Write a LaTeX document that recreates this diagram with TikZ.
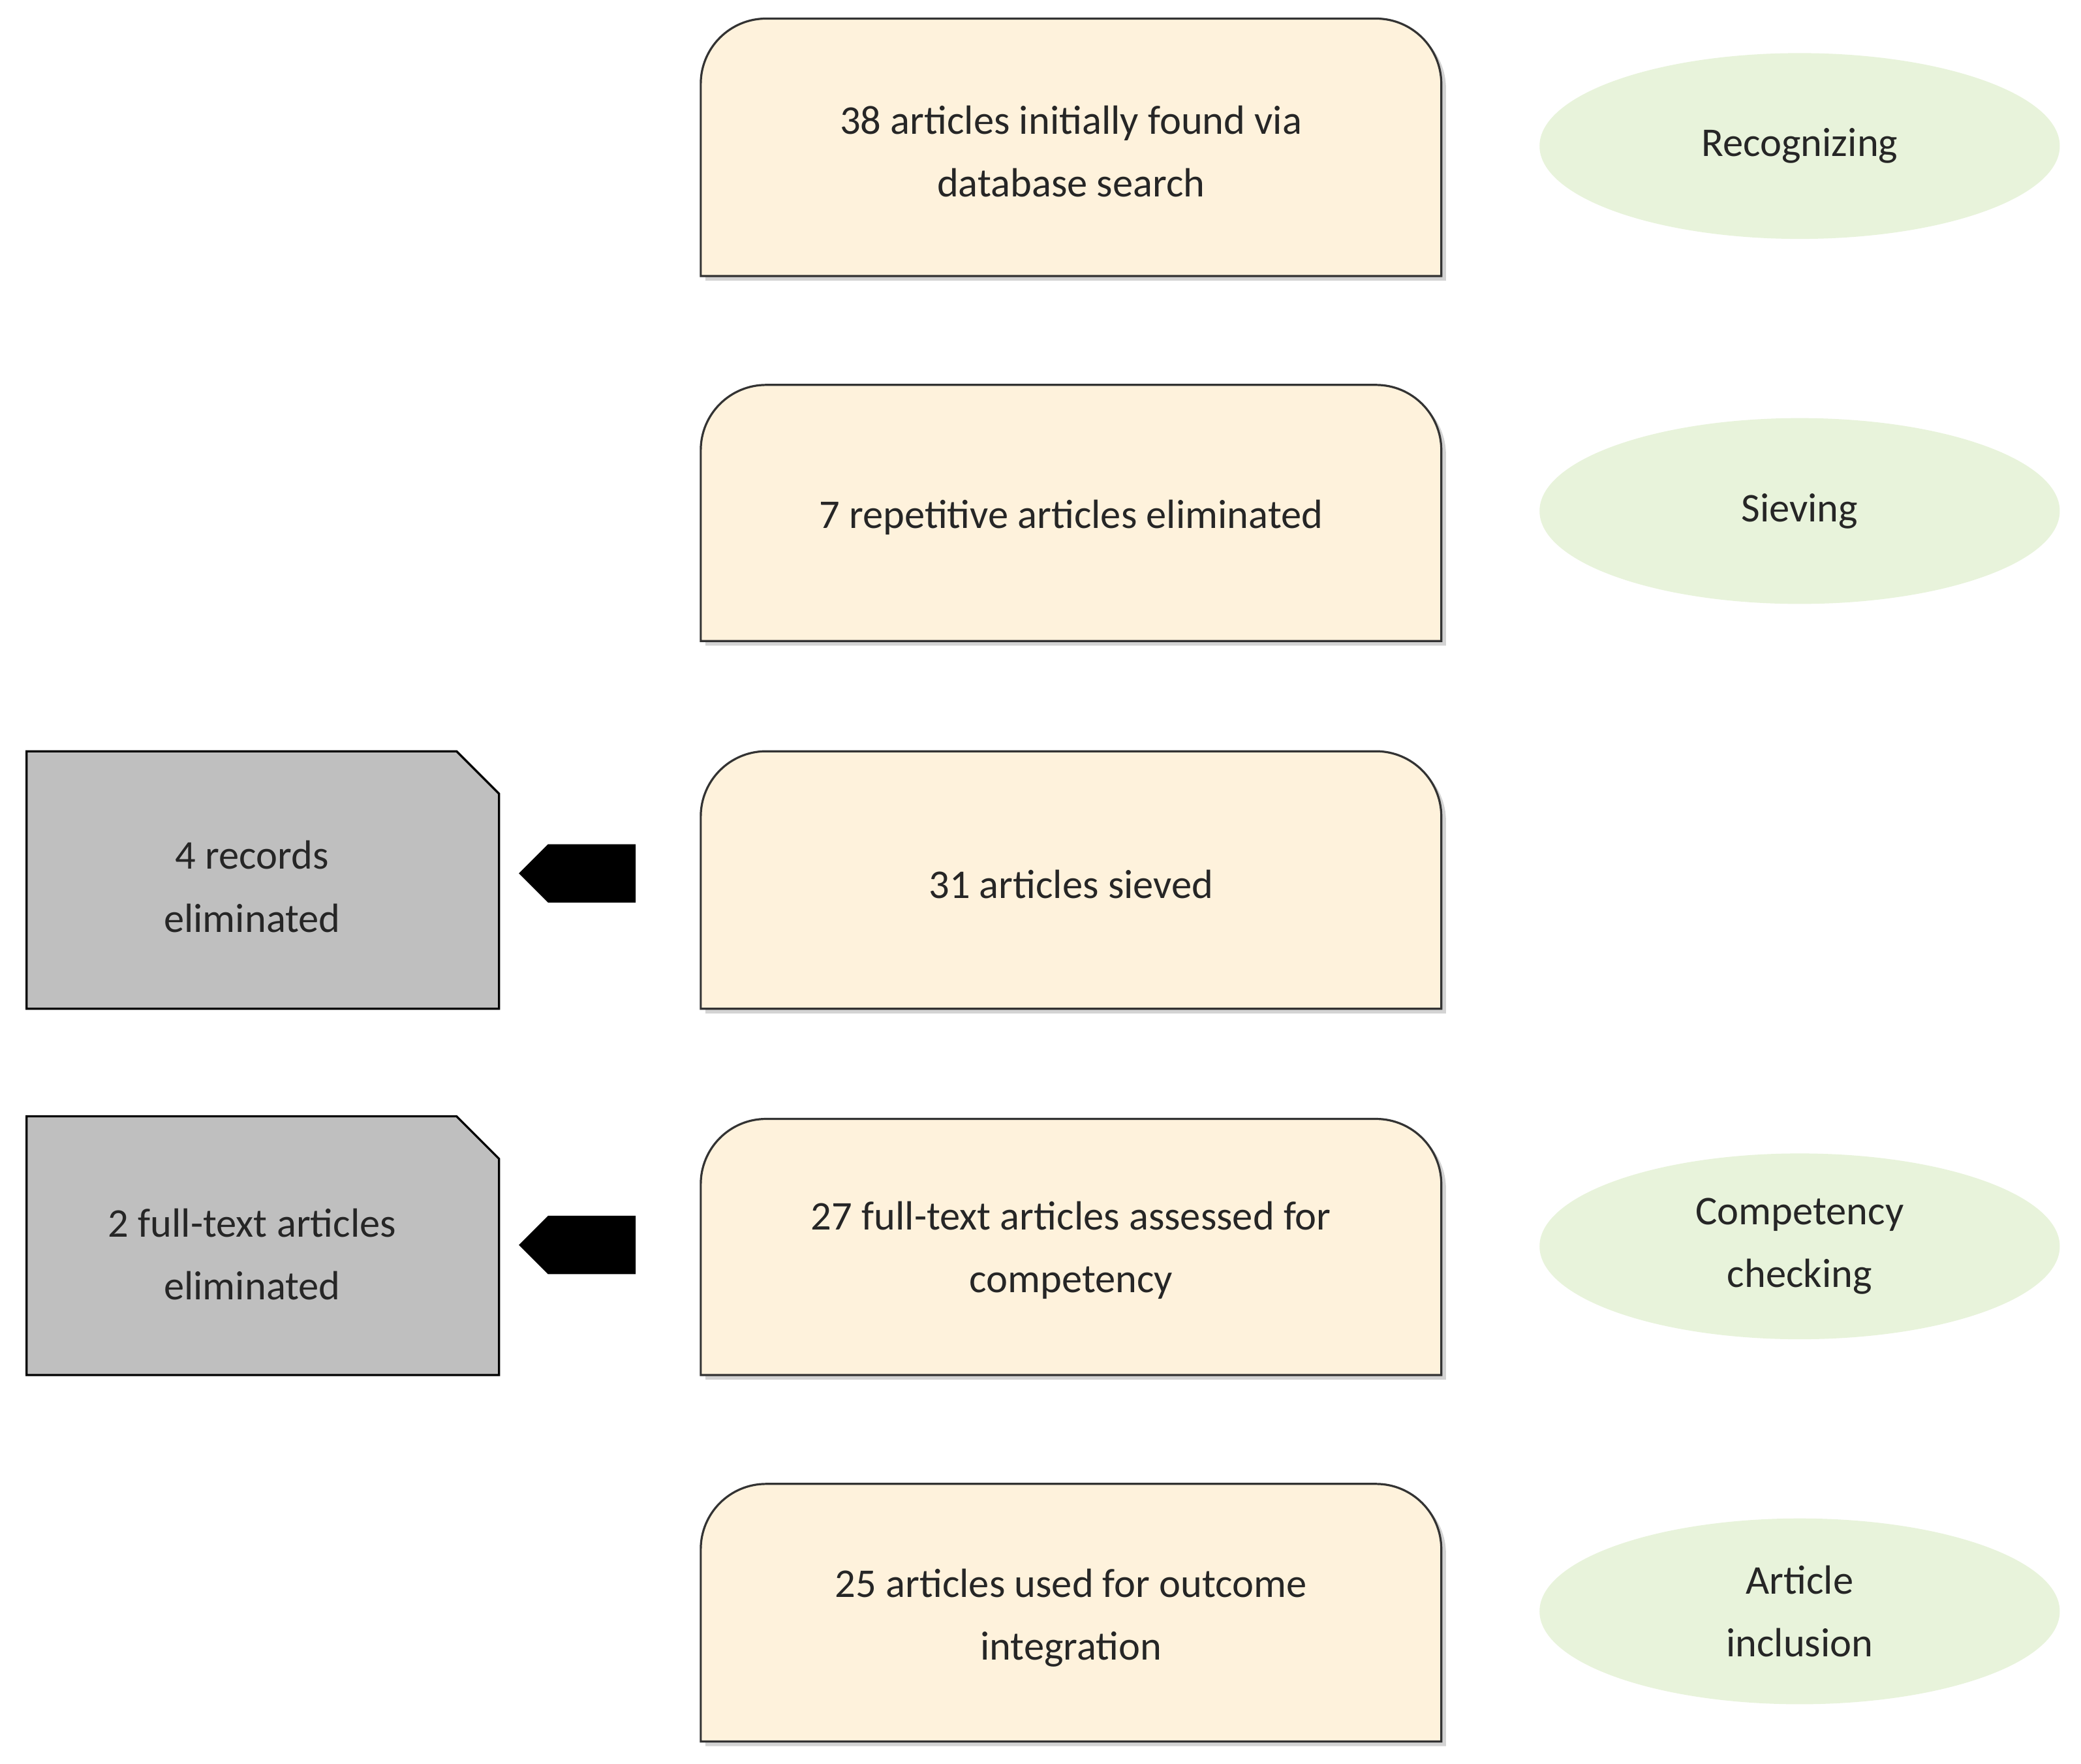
\documentclass[tikz,border=0pt]{standalone}
\usepackage{fontspec}
\setmainfont{Carlito}
\usetikzlibrary{shadows,shapes.arrows}
\begin{document}
\begin{tikzpicture}[x=0.02cm,y=-0.02cm,
  txt/.style={align=center,font=\fontsize{17.5}{27}\selectfont,text=black!85},
  ybox/.style={fill=yellow!25!orange!12,draw=black!80,line width=0.9pt,drop shadow={shadow xshift=2pt,shadow yshift=-2pt,opacity=0.35}},
  gbox/.style={fill=black!25,draw=black,line width=0.9pt},
  ell/.style={ellipse,fill=green!30!olive!14,minimum width=392*0.02cm,minimum height=140*0.02cm,inner sep=0pt},
  barr/.style={single arrow,fill=black,minimum height=88*0.02cm,minimum width=44*0.02cm,single arrow head extend=0pt,shape border rotate=180,inner sep=0pt,single arrow tip angle=90}]
\useasboundingbox (0,0) rectangle (1568,1329);
\tikzset{ellipse/.style={shape=ellipse}}
\usetikzlibrary{shapes.geometric}
% yellow boxes
\foreach \n/\t/\b in {y1/14/208,y2/290/483,y3/566/760,y4/843/1036,y5/1118/1312}{
  \coordinate (\n sw) at (528,\b); \coordinate (\n nw) at (528,\t);
  \coordinate (\n ne) at (1086,\t); \coordinate (\n se) at (1086,\b);
  \draw[ybox] (\n sw) [rounded corners=28] -- (\n nw) -- (\n ne) [sharp corners] -- (\n se) -- cycle;
}
\node[txt] (t1) at (807,114) {38 articles initially  found via\\database search};
\node[txt] (t2) at (807,390) {7 repetitive articles eliminated};
\node[txt] (t3) at (807,666) {31 articles sieved};
\node[txt] (t4) at (807,942) {27 full-text articles assessed for\\competency};
\node[txt] (t5) at (807,1219) {25 articles used for outcome\\integration};
% ellipses
\node[ell,shape=ellipse,txt] (e1) at (1356,110) {Recognizing};
\node[ell,shape=ellipse,txt] (e2) at (1356,385) {Sieving};
\node[ell,shape=ellipse,txt] (e3) at (1356,939) {Competency\\checking};
\node[ell,shape=ellipse,txt] (e4) at (1356,1214) {Article\\inclusion};
% gray boxes
\foreach \n/\t/\b in {g1/566/760,g2/841/1036}{
  \coordinate (\n a) at (20,\t); \coordinate (\n b) at (344,\t); \coordinate (\n c) at (376,\t+32);
  \coordinate (\n d) at (376,\b); \coordinate (\n e) at (20,\b);
  \draw[gbox] (\n a) -- (\n b) -- (\n c) -- (\n d) -- (\n e) -- cycle;
}
\node[txt] (gt1) at (190,668) {4 records\\eliminated};
\node[txt] (gt2) at (190,945) {2 full-text articles\\eliminated};
% arrows
\node[barr] (a1) at (446,658) {};
\node[barr] (a2) at (446,938) {};
\end{tikzpicture}
\end{document}
